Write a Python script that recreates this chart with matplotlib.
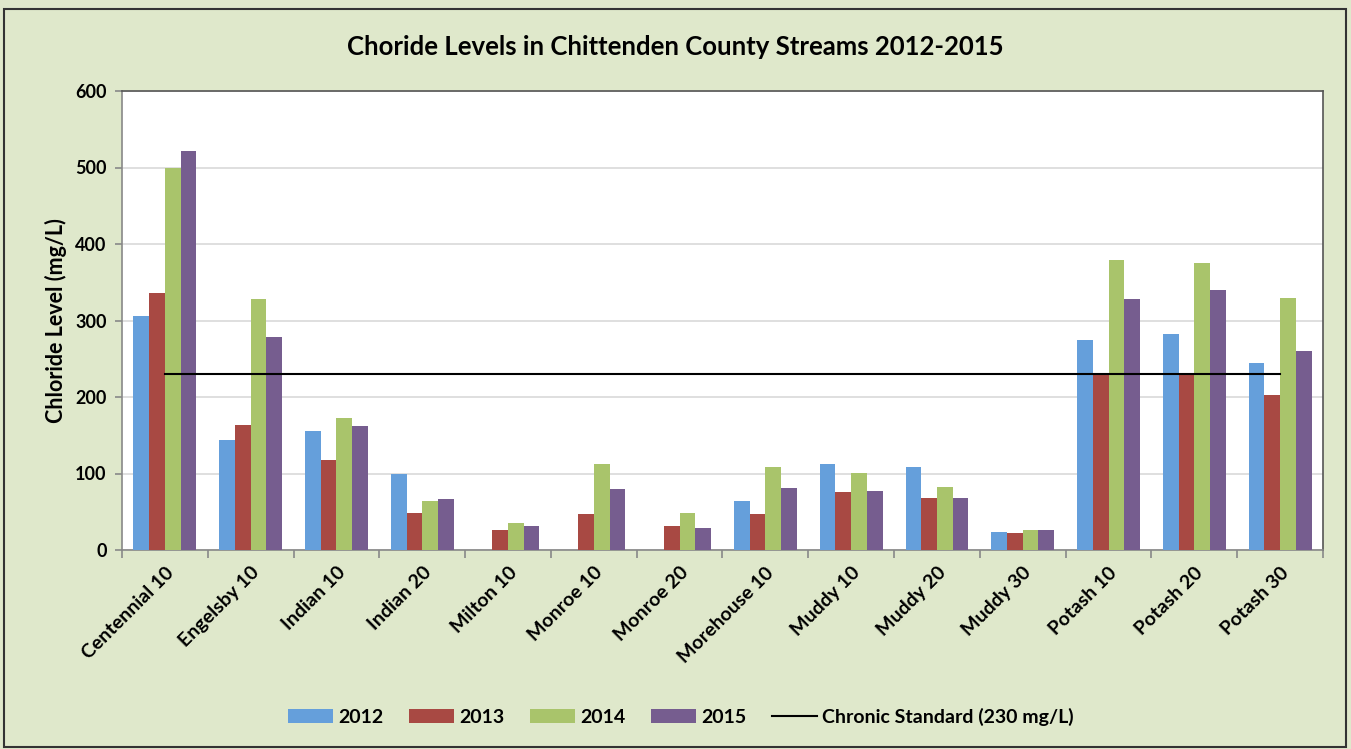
import numpy as np
import matplotlib.pyplot as plt
from matplotlib.patches import Rectangle

plt.rcParams['font.family'] = ['Lato', 'DejaVu Sans']

# Data
sites = ['Centennial 10', 'Engelsby 10', 'Indian 10', 'Indian 20', 'Milton 10',
         'Monroe 10', 'Monroe 20', 'Morehouse 10', 'Muddy 10', 'Muddy 20',
         'Muddy 30', 'Potash 10', 'Potash 20', 'Potash 30']
years = ['2012', '2013', '2014', '2015']
v2012 = [306, 144, 155, 100, 0, 0, 0, 64, 113, 109, 23, 274, 282, 245]
v2013 = [336, 164, 118, 48, 26, 47, 31, 47, 76, 68, 22, 230, 232, 202]
v2014 = [500, 328, 173, 64, 35, 113, 49, 109, 101, 82, 26, 379, 375, 329]
v2015 = [521, 278, 162, 67, 31, 80, 29, 81, 77, 68, 26, 328, 340, 260]
standard = 230

colors = ['#659fdb', '#a84943', '#a9c46b', '#765d8f']
bg = '#dfe8cb'

fig = plt.figure(figsize=(13.51, 7.49), dpi=100, facecolor=bg)
ax = fig.add_axes([122 / 1351, 1 - 550 / 749, 1201 / 1351, 459 / 749])
ax.set_facecolor('white')

x = np.arange(len(sites))
w = 0.183
handles = []
for i, (vals, c) in enumerate(zip([v2012, v2013, v2014, v2015], colors)):
    h = ax.bar(x + (i - 1.5) * w, vals, w, color=c, label=years[i], zorder=3,
               edgecolor='none')
    handles.append(h)

# chronic standard line, drawn from first to last site
line, = ax.plot([x[0], x[-1]], [standard, standard], color='black', lw=1.5, zorder=4,
                label='Chronic Standard (230 mg/L)')
handles.append(line)

ax.set_xlim(-0.5, len(sites) - 0.5)
ax.set_ylim(0, 600)
ax.set_yticks(range(0, 601, 100))
ax.yaxis.grid(True, color='#d9d9d9', lw=1.2, zorder=0)
ax.set_xticks(np.arange(-0.5, len(sites), 1.0), minor=False)
ax.set_xticklabels([])
ax.set_xticks(x, minor=True)
ax.set_xticklabels(sites, minor=True, rotation=45, ha='right', rotation_mode='anchor',
                   fontsize=14, fontweight='bold')
ax.tick_params(axis='x', which='minor', length=0, pad=10)
ax.tick_params(axis='x', which='major', length=6, color='#888888', width=1.2)
ax.tick_params(axis='y', length=5, color='#888888', width=1.2, labelsize=13, pad=6)
for lab in ax.get_yticklabels():
    lab.set_fontweight('bold')

for s in ['top', 'right']:
    ax.spines[s].set_color('#555555')
    ax.spines[s].set_linewidth(1.2)
for s in ['left', 'bottom']:
    ax.spines[s].set_color('#888888')
    ax.spines[s].set_linewidth(1.2)

ax.set_ylabel('Chloride Level (mg/L)', fontsize=15.5, fontweight='bold', labelpad=6)

fig.text(0.5, 1 - 47 / 749, 'Choride Levels in Chittenden County Streams 2012-2015',
         ha='center', va='center', fontsize=18.5, fontweight='bold')

fig.legend(handles=handles, loc='center', bbox_to_anchor=(681 / 1351, 1 - 717 / 749),
           ncol=5, frameon=False, prop={'weight': 'bold', 'size': 14},
           handlelength=2.3, handleheight=0.7, columnspacing=1.3, handletextpad=0.3)

# figure border
fig.patches.append(Rectangle((0.003, 0.003), 0.993, 0.985, transform=fig.transFigure,
                             fill=False, edgecolor='#333333', lw=1.5))

fig.savefig('out.png', dpi=100, facecolor=bg)
